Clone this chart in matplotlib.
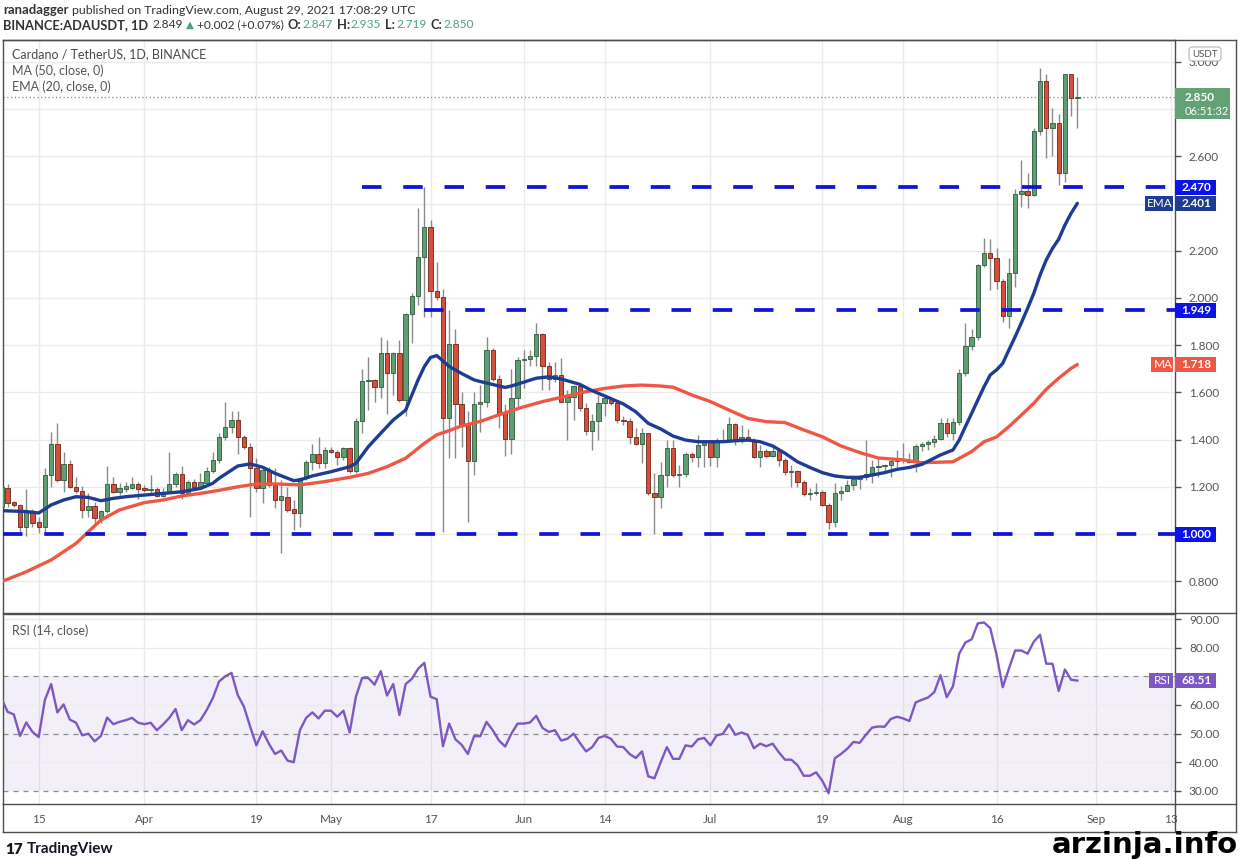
import numpy as np
import pandas as pd
import matplotlib
matplotlib.use('Agg')
import matplotlib.pyplot as plt
import matplotlib.dates as mdates
import matplotlib.transforms as mtrans
from matplotlib.patches import Rectangle, FancyBboxPatch
from matplotlib.lines import Line2D

W, H = 1240, 860

# daily ADA/USDT candles, 2021-03-09 .. 2021-08-29
opens = [
    1.116, 1.197, 1.136, 1.123, 1.031, 1.099, 1.052, 1.031, 1.25, 1.38, 1.229, 1.296, 1.20, 1.183, 1.102, 1.119, 1.066, 1.097, 1.211, 1.179, 1.19, 1.197, 1.211,
    1.193, 1.186, 1.19, 1.16, 1.179, 1.211, 1.253, 1.172, 1.221, 1.20, 1.218, 1.268, 1.314, 1.412, 1.452, 1.483, 1.412, 1.37, 1.278, 1.194, 1.271, 1.208, 1.144, 1.158, 1.104, 1.09, 1.236, 1.306, 1.339, 1.301,
    1.356, 1.349, 1.325, 1.363, 1.268, 1.48, 1.65, 1.653, 1.621, 1.766, 1.681, 1.766, 1.568, 1.932, 2.008, 2.175, 2.299, 2.031, 2.006, 1.49, 1.805, 1.551, 1.462, 1.311, 1.551, 1.56, 1.78, 1.657, 1.511, 1.401, 1.578,
    1.737, 1.742, 1.754, 1.847, 1.712, 1.657, 1.674, 1.561, 1.582, 1.627, 1.532, 1.438, 1.48, 1.556, 1.575, 1.556, 1.483, 1.478, 1.412, 1.381, 1.427, 1.172, 1.155, 1.25, 1.363, 1.25, 1.253, 1.339, 1.325, 1.377,
    1.391, 1.328, 1.395, 1.40, 1.466, 1.398, 1.412, 1.398, 1.325, 1.352, 1.332, 1.352, 1.314, 1.264, 1.267, 1.222, 1.169, 1.172, 1.177, 1.123, 1.052, 1.172, 1.183, 1.208, 1.233, 1.24, 1.253, 1.282, 1.288, 1.291, 1.311,
    1.316, 1.314, 1.306, 1.373, 1.381, 1.391, 1.402, 1.472, 1.427, 1.476, 1.681, 1.797, 1.833, 2.14, 2.189, 2.168, 2.073, 1.924, 2.107, 2.441, 2.455, 2.437, 2.709, 2.921, 2.719, 2.74, 2.528, 2.949, 2.847,
]
highs = [
    1.21, 1.21, 1.14, 1.127, 1.19, 1.105, 1.07, 1.28, 1.434, 1.47, 1.346, 1.314, 1.243, 1.203, 1.172, 1.137, 1.10, 1.289, 1.24, 1.215, 1.22, 1.24, 1.22,
    1.207, 1.25, 1.20, 1.193, 1.346, 1.264, 1.289, 1.229, 1.232, 1.257, 1.284, 1.349, 1.43, 1.561, 1.52, 1.52, 1.42, 1.385, 1.32, 1.29, 1.285, 1.28, 1.23, 1.20, 1.144, 1.243, 1.314, 1.38, 1.412, 1.37,
    1.37, 1.356, 1.37, 1.37, 1.49, 1.70, 1.751, 1.655, 1.836, 1.82, 1.77, 1.82, 1.935, 2.02, 2.38, 2.47, 2.33, 2.154, 2.04, 1.949, 1.87, 1.60, 1.52, 1.60, 1.63, 1.833, 1.79, 1.674, 1.551, 1.70, 1.75,
    1.78, 1.78, 1.893, 1.85, 1.73, 1.73, 1.745, 1.61, 1.63, 1.64, 1.554, 1.51, 1.59, 1.59, 1.58, 1.56, 1.50, 1.49, 1.45, 1.45, 1.43, 1.26, 1.305, 1.398, 1.398, 1.292, 1.349, 1.349, 1.419, 1.398,
    1.395, 1.405, 1.443, 1.497, 1.469, 1.462, 1.443, 1.405, 1.377, 1.359, 1.377, 1.356, 1.322, 1.292, 1.271, 1.229, 1.194, 1.215, 1.186, 1.13, 1.215, 1.203, 1.229, 1.243, 1.25, 1.398, 1.314, 1.322, 1.297, 1.314, 1.356,
    1.387, 1.342, 1.38, 1.391, 1.398, 1.419, 1.49, 1.49, 1.49, 1.70, 1.895, 1.87, 2.145, 2.253, 2.25, 2.21, 2.08, 2.17, 2.46, 2.585, 2.53, 2.72, 2.973, 2.95, 2.804, 2.78, 2.95, 2.95, 2.935,
]
lows = [
    1.10, 1.116, 1.116, 1.01, 0.99, 1.031, 1.003, 1.003, 1.20, 1.22, 1.18, 1.195, 1.172, 1.066, 1.074, 1.042, 1.045, 1.088, 1.172, 1.165, 1.179, 1.19, 1.15,
    1.179, 1.172, 1.155, 1.155, 1.172, 1.20, 1.15, 1.169, 1.186, 1.193, 1.207, 1.26, 1.30, 1.40, 1.43, 1.34, 1.36, 1.073, 1.18, 1.13, 1.20, 1.109, 0.918, 1.095, 1.017, 1.03, 1.23, 1.27, 1.278, 1.28,
    1.342, 1.294, 1.314, 1.257, 1.26, 1.43, 1.525, 1.56, 1.575, 1.51, 1.59, 1.56, 1.50, 1.81, 1.97, 1.92, 1.92, 1.99, 1.01, 1.32, 1.32, 1.37, 1.05, 1.25, 1.434, 1.54, 1.65, 1.448, 1.33, 1.34, 1.53,
    1.62, 1.71, 1.71, 1.61, 1.61, 1.645, 1.56, 1.40, 1.483, 1.52, 1.42, 1.356, 1.40, 1.50, 1.545, 1.47, 1.46, 1.38, 1.375, 1.30, 1.165, 1.0, 1.109, 1.20, 1.243, 1.20, 1.243, 1.306, 1.282, 1.282,
    1.288, 1.285, 1.39, 1.395, 1.377, 1.384, 1.395, 1.322, 1.282, 1.322, 1.325, 1.288, 1.25, 1.198, 1.198, 1.161, 1.144, 1.165, 1.119, 1.02, 1.031, 1.144, 1.181, 1.186, 1.19, 1.229, 1.215, 1.243, 1.268, 1.243, 1.285,
    1.299, 1.299, 1.264, 1.35, 1.356, 1.37, 1.40, 1.41, 1.40, 1.46, 1.67, 1.78, 1.82, 2.13, 2.034, 2.04, 1.90, 1.871, 2.048, 2.387, 2.38, 2.43, 2.69, 2.592, 2.60, 2.48, 2.493, 2.771, 2.719,
]
closes = [
    1.20, 1.13, 1.123, 1.031, 1.099, 1.048, 1.031, 1.25, 1.38, 1.229, 1.296, 1.20, 1.183, 1.102, 1.119, 1.066, 1.097, 1.211, 1.179, 1.193, 1.204, 1.211, 1.19,
    1.185, 1.19, 1.16, 1.179, 1.211, 1.253, 1.172, 1.222, 1.20, 1.221, 1.268, 1.314, 1.412, 1.452, 1.483, 1.412, 1.37, 1.278, 1.194, 1.271, 1.208, 1.144, 1.161, 1.102, 1.09, 1.236, 1.306, 1.339, 1.301, 1.356,
    1.349, 1.325, 1.363, 1.268, 1.48, 1.65, 1.653, 1.621, 1.768, 1.681, 1.766, 1.568, 1.932, 2.008, 2.175, 2.299, 2.031, 2.006, 1.49, 1.805, 1.551, 1.462, 1.311, 1.551, 1.56, 1.78, 1.657, 1.511, 1.401, 1.578, 1.737,
    1.742, 1.754, 1.847, 1.712, 1.657, 1.674, 1.561, 1.582, 1.627, 1.532, 1.438, 1.48, 1.556, 1.575, 1.556, 1.483, 1.478, 1.412, 1.381, 1.427, 1.172, 1.155, 1.25, 1.363, 1.25, 1.253, 1.339, 1.325, 1.377, 1.391,
    1.328, 1.395, 1.40, 1.466, 1.398, 1.412, 1.398, 1.325, 1.352, 1.332, 1.352, 1.314, 1.264, 1.267, 1.222, 1.169, 1.172, 1.177, 1.123, 1.052, 1.172, 1.183, 1.208, 1.233, 1.24, 1.253, 1.282, 1.288, 1.291, 1.311, 1.316,
    1.314, 1.306, 1.373, 1.381, 1.391, 1.402, 1.472, 1.427, 1.476, 1.681, 1.797, 1.833, 2.14, 2.189, 2.168, 2.073, 1.924, 2.107, 2.441, 2.455, 2.437, 2.709, 2.921, 2.719, 2.74, 2.528, 2.949, 2.847, 2.850,
]

# EMA 20 and MA 50
ema_dates = ['2021-03-09', '2021-03-13', '2021-03-15', '2021-03-17', '2021-03-19', '2021-03-21', '2021-03-23', '2021-03-25',
             '2021-03-27', '2021-03-29', '2021-04-01', '2021-04-04', '2021-04-07', '2021-04-10', '2021-04-12', '2021-04-13',
             '2021-04-16', '2021-04-18', '2021-04-20', '2021-04-22', '2021-04-25', '2021-04-26', '2021-04-28', '2021-05-01',
             '2021-05-04', '2021-05-05', '2021-05-07', '2021-05-09', '2021-05-11', '2021-05-13', '2021-05-15', '2021-05-16',
             '2021-05-17', '2021-05-18', '2021-05-20', '2021-05-22', '2021-05-24', '2021-05-25', '2021-05-29', '2021-05-30',
             '2021-06-03', '2021-06-05', '2021-06-07', '2021-06-10', '2021-06-12', '2021-06-14', '2021-06-17', '2021-06-19',
             '2021-06-21', '2021-06-23', '2021-06-25', '2021-06-27', '2021-06-29', '2021-07-01', '2021-07-03', '2021-07-05',
             '2021-07-07', '2021-07-09', '2021-07-11', '2021-07-13', '2021-07-15', '2021-07-17', '2021-07-19', '2021-07-21',
             '2021-07-23', '2021-07-25', '2021-07-27', '2021-07-29', '2021-07-31', '2021-08-02', '2021-08-04', '2021-08-07',
             '2021-08-09', '2021-08-10', '2021-08-11', '2021-08-12', '2021-08-13', '2021-08-14', '2021-08-15', '2021-08-16',
             '2021-08-17', '2021-08-18', '2021-08-19', '2021-08-20', '2021-08-21', '2021-08-22', '2021-08-23', '2021-08-24',
             '2021-08-25', '2021-08-26', '2021-08-27', '2021-08-28', '2021-08-29']
ema_vals = [1.099, 1.095, 1.089, 1.123, 1.144, 1.158, 1.155, 1.141,
            1.151, 1.158, 1.165, 1.172, 1.179, 1.193, 1.215, 1.236,
            1.288, 1.297, 1.283, 1.257, 1.226, 1.229, 1.246, 1.264,
            1.285, 1.299, 1.370, 1.427, 1.483, 1.525, 1.653, 1.709,
            1.748, 1.756, 1.710, 1.680, 1.653, 1.646, 1.621, 1.627,
            1.660, 1.666, 1.657, 1.634, 1.607, 1.585, 1.551, 1.518,
            1.469, 1.445, 1.415, 1.398, 1.391, 1.391, 1.391, 1.395,
            1.398, 1.391, 1.373, 1.342, 1.306, 1.282, 1.260, 1.246,
            1.240, 1.240, 1.250, 1.260, 1.274, 1.282, 1.295, 1.335,
            1.356, 1.398, 1.455, 1.511, 1.568, 1.624, 1.674, 1.695,
            1.723, 1.780, 1.836, 1.895, 1.956, 2.020, 2.097, 2.161,
            2.210, 2.249, 2.309, 2.359, 2.401]

ma_dates = ['2021-03-09', '2021-03-13', '2021-03-17', '2021-03-21', '2021-03-23', '2021-03-25', '2021-03-28', '2021-04-01',
            '2021-04-04', '2021-04-07', '2021-04-10', '2021-04-13', '2021-04-16', '2021-04-19', '2021-04-22', '2021-04-26',
            '2021-04-30', '2021-05-04', '2021-05-07', '2021-05-10', '2021-05-13', '2021-05-16', '2021-05-18', '2021-05-20',
            '2021-05-22', '2021-05-25', '2021-05-28', '2021-06-01', '2021-06-04', '2021-06-08', '2021-06-11', '2021-06-14',
            '2021-06-17', '2021-06-20', '2021-06-23', '2021-06-25', '2021-06-28', '2021-07-01', '2021-07-04', '2021-07-07',
            '2021-07-10', '2021-07-13', '2021-07-16', '2021-07-19', '2021-07-22', '2021-07-25', '2021-07-28', '2021-08-01',
            '2021-08-04', '2021-08-09', '2021-08-12', '2021-08-14', '2021-08-16', '2021-08-18', '2021-08-20', '2021-08-22',
            '2021-08-24', '2021-08-26', '2021-08-28', '2021-08-29']
ma_vals = [0.798, 0.840, 0.890, 0.960, 1.010, 1.059, 1.102, 1.133,
           1.144, 1.161, 1.172, 1.185, 1.200, 1.212, 1.212, 1.208,
           1.222, 1.240, 1.257, 1.285, 1.321, 1.384, 1.420, 1.438,
           1.458, 1.477, 1.505, 1.539, 1.561, 1.585, 1.603, 1.617,
           1.627, 1.631, 1.627, 1.622, 1.589, 1.561, 1.525, 1.490,
           1.476, 1.472, 1.441, 1.412, 1.373, 1.345, 1.322, 1.314,
           1.302, 1.306, 1.349, 1.391, 1.411, 1.455, 1.504, 1.554,
           1.613, 1.660, 1.702, 1.718]

# RSI 14, one value per candle
rsi = [
    62.4, 57.6, 56.7, 49.2, 53.9, 50.6, 48.8, 61.8, 67.3, 57.4, 60.2, 54.9, 53.8, 49.4, 50.0, 47.3, 49.2, 55.6, 53.3, 54.1, 54.7, 55.5, 53.8,
    53.3, 53.8, 51.2, 53.2, 55.5, 58.6, 51.2, 54.7, 53.2, 54.7, 58.2, 62.4, 68.2, 70.0, 71.2, 63.5, 59.4, 52.4, 45.9, 50.8, 46.5, 42.9, 44.1, 40.6, 40.0, 51.2, 55.5, 57.4, 55.3, 58.0,
    58.0, 55.9, 58.0, 50.4, 62.9, 69.4, 69.4, 67.1, 71.8, 63.3, 67.3, 56.5, 67.3, 69.1, 72.6, 74.7, 62.9, 62.0, 45.6, 53.5, 48.0, 46.1, 42.9, 49.1, 49.1, 54.1, 51.2, 47.6, 45.5, 50.0, 53.5,
    53.5, 53.9, 56.2, 52.0, 50.6, 51.2, 47.6, 48.2, 50.0, 46.8, 43.8, 45.3, 48.5, 49.2, 48.2, 45.5, 45.3, 42.9, 41.5, 43.8, 35.1, 34.4, 40.0, 45.3, 41.2, 41.2, 45.9, 45.5, 48.0, 48.5,
    45.9, 49.4, 49.9, 53.2, 49.6, 50.4, 49.6, 44.9, 46.5, 45.6, 46.5, 43.5, 40.9, 40.9, 39.0, 35.3, 35.3, 36.5, 33.5, 29.2, 41.4, 42.9, 44.7, 47.1, 46.8, 49.6, 52.1, 52.5, 52.4, 55.1, 55.9,
    55.3, 54.4, 60.9, 61.8, 62.6, 64.5, 70.4, 62.7, 66.5, 77.9, 81.8, 82.9, 88.5, 88.8, 86.8, 77.6, 66.2, 72.7, 79.0, 79.0, 77.9, 82.1, 84.5, 74.4, 74.4, 64.9, 72.4, 68.8, 68.51,
]

levels = [2.470, 1.949, 1.000]
level_start = ['2021-05-06', '2021-05-16', '2021-03-09']

tick_dates = ['2021-03-15', '2021-04-01', '2021-04-19', '2021-05-01', '2021-05-17', '2021-06-01', '2021-06-14',
              '2021-07-01', '2021-07-19', '2021-08-01', '2021-08-16', '2021-09-01', '2021-09-13']
tick_labels = ['15', 'Apr', '19', 'May', '17', 'Jun', '14', 'Jul', '19', 'Aug', '16', 'Sep', '13']

GREEN = '#5f9e73'
GREEN_EDGE = '#2f5a3c'
RED = '#d5503b'
RED_EDGE = '#6e2418'
WICK = '#8a8a8a'
BLUE = '#1212d8'
NAVY = '#1d3d92'
MA_RED = '#ef5745'
PURPLE = '#7e57c2'
GRID = '#ebebeb'
FRAME = '#4d4d4d'
TXT = '#555555'

plt.rcParams['font.family'] = ['Lato', 'DejaVu Sans']

fig = plt.figure(figsize=(W / 100, H / 100), dpi=100)
fig.patch.set_facecolor('white')
# pixel coordinates, origin top-left
pix = mtrans.Affine2D().scale(1.0 / W, -1.0 / H).translate(0, 1) + fig.transFigure


def box(x0, y0, x1, y1):
    return [x0 / W, 1 - y1 / H, (x1 - x0) / W, (y1 - y0) / H]


ax = fig.add_axes(box(3, 40, 1175, 613))
axr = fig.add_axes(box(3, 614, 1175, 804))

dates = pd.date_range('2021-03-09', periods=len(closes), freq='D')
xs = mdates.date2num(dates)
o = np.array(opens)
h = np.array(highs)
l = np.array(lows)
c = np.array(closes)

x0 = xs[0] + 0.26
x1 = xs[0] + 188.7
for a in (ax, axr):
    a.set_xlim(x0, x1)
    a.set_facecolor('white')
    for s in a.spines.values():
        s.set_color(FRAME)
        s.set_linewidth(1)
ax.set_ylim(0.6653, 3.093)
axr.set_ylim(25.44, 91.75)

tx = mdates.date2num(pd.to_datetime(tick_dates))
for a in (ax, axr):
    for t in tx:
        a.axvline(t, color=GRID, lw=1, zorder=0)

# price grid + right axis
pticks = np.round(np.arange(0.8, 3.01, 0.2), 1)
for p in pticks:
    ax.axhline(p, color=GRID, lw=1, zorder=0)
plabels = ['' if p in (1.0, 2.4, 2.8) else '%.3f' % p for p in pticks]
ax.yaxis.tick_right()
ax.set_yticks(pticks, plabels)
ax.tick_params(axis='y', length=4, width=1, color=FRAME, labelsize=8.5, labelcolor=TXT, pad=6)
ax.set_xticks([])

# candles
up = c >= o
ax.vlines(xs, l, h, color=WICK, lw=1, zorder=2)
body_lo = np.minimum(o, c)
body_h = np.maximum(np.abs(c - o), 0.004)
ax.bar(xs, body_h, width=0.7, bottom=body_lo, color=np.where(up, GREEN, RED),
       edgecolor=np.where(up, GREEN_EDGE, RED_EDGE), linewidth=0.6, zorder=3)

# moving averages
ax.plot(mdates.date2num(pd.to_datetime(ma_dates)), ma_vals, color=MA_RED, lw=2.4, zorder=4,
        solid_capstyle='round')
ax.plot(mdates.date2num(pd.to_datetime(ema_dates)), ema_vals, color=NAVY, lw=2.4, zorder=4,
        solid_capstyle='round')

# horizontal levels
for lv, st in zip(levels, level_start):
    xstart = max(mdates.date2num(pd.Timestamp(st)), x0)
    ax.hlines(lv, xstart, x1, color=BLUE, lw=2.7, linestyles=(0, (5.2, 5.8)), zorder=5)

ax.axhline(closes[-1], color=GREEN, lw=0.9, ls=(0, (1, 2)), zorder=1)

# RSI pane
axr.axhspan(30, 70, color=PURPLE, alpha=0.09, lw=0, zorder=0)
for v in (90, 80, 60, 40):
    axr.axhline(v, color=GRID, lw=1, zorder=0)
for v in (70, 50, 30):
    axr.axhline(v, color='#8c8c8c', lw=0.9, ls=(0, (4, 4)), zorder=1)
axr.plot(xs, rsi, color=PURPLE, lw=1.7, zorder=3)
rticks = [30, 40, 50, 60, 70, 80, 90]
axr.yaxis.tick_right()
axr.set_yticks(rticks, ['' if v == 70 else '%.2f' % v for v in rticks])
axr.tick_params(axis='y', length=4, width=1, color=FRAME, labelsize=8.5, labelcolor=TXT, pad=6)
axr.set_xticks(tx, tick_labels)
axr.tick_params(axis='x', length=0, labelsize=8.5, labelcolor=TXT, pad=7)

# outer frame pieces
for (xa, ya, xb, yb) in [(3, 40, 1236, 40), (1236, 40, 1236, 832), (3, 832, 1236, 832),
                         (3, 804, 3, 832), (1175, 804, 1175, 832), (1175, 613, 1236, 613),
                         (1175, 804, 1236, 804)]:
    fig.add_artist(Line2D([xa, xb], [ya, yb], transform=pix, color=FRAME, lw=1))


def ypx(a, val):
    return H - a.transData.transform((x0, val))[1]


def tag(a, val, xa, xb, txt, fc, hh=15, bold=False):
    yc = ypx(a, val)
    fig.add_artist(Rectangle((xa, yc - hh / 2), xb - xa, hh, transform=pix, fc=fc, ec='none', zorder=5))
    fig.text((xa + xb) / 2 + 1, yc, txt, transform=pix, ha='center', va='center', color='white',
             fontsize=8.5, fontweight='bold' if bold else 'normal', zorder=6)


tag(ax, 2.470, 1175, 1216, '2.470', '#0c12ea', bold=True)
tag(ax, ema_vals[-1], 1175, 1216, '2.401', NAVY, bold=True)
tag(ax, ema_vals[-1], 1145, 1173, 'EMA', NAVY)
tag(ax, 1.949, 1175, 1216, '1.949', '#0c12ea', bold=True)
tag(ax, ma_vals[-1], 1175, 1216, '1.718', MA_RED, bold=True)
tag(ax, ma_vals[-1], 1151, 1173, 'MA', MA_RED)
tag(ax, 1.000, 1175, 1216, '1.000', '#0c12ea', bold=True)
tag(axr, rsi[-1], 1175, 1216, '68.51', PURPLE, bold=True)
tag(axr, rsi[-1], 1149, 1173, 'RSI', PURPLE)

# last price box
yc = ypx(ax, closes[-1])
fig.add_artist(Rectangle((1175, yc - 9), 55, 31, transform=pix, fc='#62a275', ec='none', zorder=5))
fig.text(1185, yc, '2.850', transform=pix, ha='left', va='center', color='white', fontsize=8.5,
         fontweight='bold', zorder=6)
fig.text(1185, yc + 14, '06:51:32', transform=pix, ha='left', va='center', color='white', fontsize=8,
         zorder=6)

# USDT badge
fig.add_artist(FancyBboxPatch((1189, 47), 32, 14, boxstyle='round,pad=0,rounding_size=3', transform=pix,
                              fc='white', ec='#b5b5b5', lw=0.8, zorder=5))
fig.text(1205, 54.5, 'USDT', transform=pix, ha='center', va='center', color=TXT, fontsize=7, zorder=6)

# pane legends
fig.text(12, 54, 'Cardano / TetherUS, 1D, BINANCE', transform=pix, va='center', color='#4a4a4a', fontsize=9)
fig.text(12, 71, 'MA (50, close, 0)', transform=pix, va='center', color=TXT, fontsize=9)
fig.text(12, 87, 'EMA (20, close, 0)', transform=pix, va='center', color=TXT, fontsize=9)
fig.text(12, 631, 'RSI (14, close)', transform=pix, va='center', color=TXT, fontsize=9)

# header lines, laid out piece after piece with measured widths
renderer = fig.canvas.get_renderer()


def run(x, y, pieces):
    for txt, col, wt, size, gap in pieces:
        t = fig.text(x, y, txt, transform=pix, va='center', color=col, fontsize=size, fontweight=wt)
        x = t.get_window_extent(renderer).x1 + gap


DK = '#333333'
HG = '#4fa07e'
run(3, 10, [('ranadagger', DK, 'bold', 9.4, 3),
            ('published on TradingView.com, August 29, 2021 17:08:29 UTC', DK, 'normal', 8.9, 0)])
run(3, 25, [('BINANCE:ADAUSDT, 1D', DK, 'bold', 9.3, 4),
            ('2.849', DK, 'normal', 8.6, 3),
            ('\u25b2', HG, 'normal', 7.5, 3),
            ('+0.002 (+0.07%)', DK, 'normal', 8.6, 4),
            ('O:', DK, 'bold', 9.3, 1), ('2.847', HG, 'normal', 8.6, 4),
            ('H:', DK, 'bold', 9.3, 1), ('2.935', HG, 'normal', 8.6, 4),
            ('L:', DK, 'bold', 9.3, 1), ('2.719', HG, 'normal', 8.6, 4),
            ('C:', DK, 'bold', 9.3, 1), ('2.850', HG, 'normal', 8.6, 0)])

# footer
fig.text(5, 849, '17', transform=pix, va='center', color='#131722', fontsize=11, fontweight='heavy')
fig.text(27, 849, 'TradingView', transform=pix, va='center', color='#131722', fontsize=11, fontweight='bold')
fig.text(1238, 845, 'arzinja.info', transform=pix, ha='right', va='center', color='black',
         fontsize=21, fontweight='bold', family=['DejaVu Sans'], zorder=7)

fig.savefig('out.png', dpi=100, facecolor='white')
